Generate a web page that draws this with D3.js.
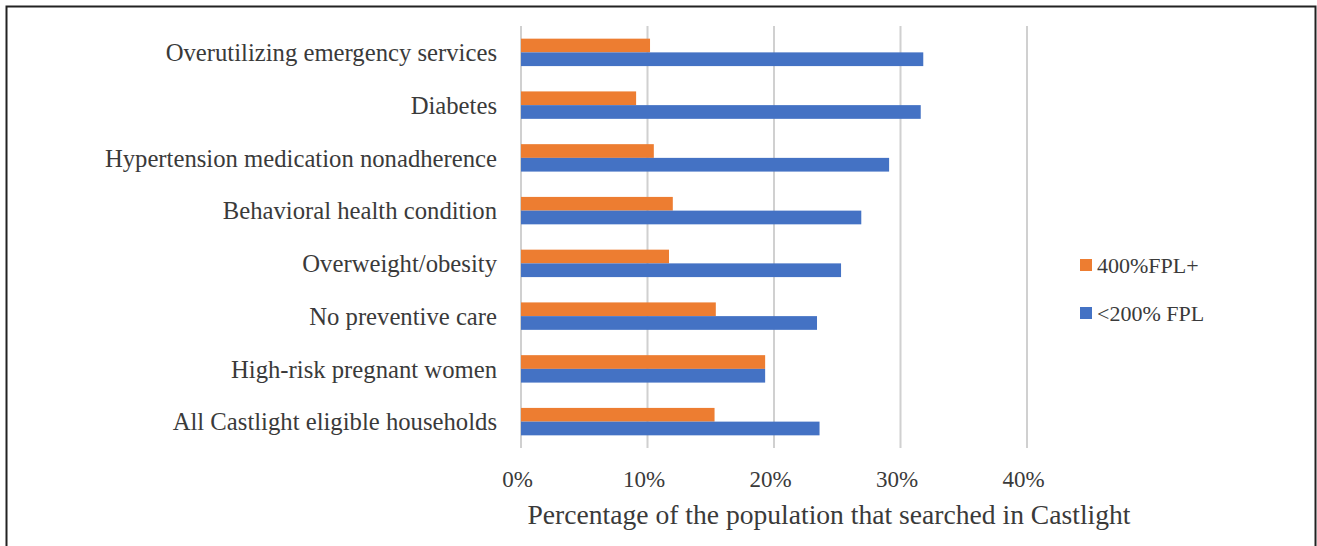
<!DOCTYPE html>
<html><head><meta charset="utf-8">
<script src="https://cdn.jsdelivr.net/npm/d3@7"></script>
<style>html,body{margin:0;padding:0;background:#fff;}text{font-family:"Liberation Serif","Times New Roman",serif;fill:#3a3a3a;}</style>
</head><body>
<svg id="chart" width="1317" height="546"></svg>
<script>
const categories = ["Overutilizing emergency services","Diabetes","Hypertension medication nonadherence","Behavioral health condition","Overweight/obesity","No preventive care","High-risk pregnant women","All Castlight eligible households"];
const seriesNames = ["400%FPL+","<200% FPL"];
const high400 = [0.102,0.091,0.105,0.120,0.117,0.154,0.193,0.153];
const low200 = [0.318,0.316,0.291,0.269,0.253,0.234,0.193,0.236];
const tickValues = [0,0.1,0.2,0.3,0.4];
const colors = ["#ED7D31","#4472C4"];
const axisTitle = "Percentage of the population that searched in Castlight";

const svg = d3.select("#chart");
svg.append("rect").attr("x",6.5).attr("y",6.5).attr("width",1309).attr("height",560).attr("fill","none").attr("stroke","#222").attr("stroke-width",2);

const x = d3.scaleLinear().domain([0,0.4]).range([521,1027]);
const y = d3.scaleBand().domain(categories).range([26,448]).paddingInner(0.48).paddingOuter(0.24);
const ys = d3.scaleBand().domain(seriesNames).range([0,y.bandwidth()]);

svg.append("g").selectAll("line").data(tickValues).join("line")
  .attr("x1",d=>x(d)).attr("x2",d=>x(d)).attr("y1",26).attr("y2",448)
  .attr("stroke","#d0d0d0").attr("stroke-width",2);

const data = categories.map((c,i)=>({cat:c, vals:[high400[i],low200[i]]}));
const grp = svg.append("g").selectAll("g").data(data).join("g")
  .attr("transform",d=>`translate(0,${y(d.cat)})`);
grp.selectAll("rect").data(d=>d.vals.map((v,j)=>({v,s:seriesNames[j],c:colors[j]}))).join("rect")
  .attr("x",x(0)).attr("y",d=>ys(d.s)).attr("width",d=>x(d.v)-x(0)).attr("height",ys.bandwidth())
  .attr("fill",d=>d.c);

const yAxis = d3.axisLeft(y).tickSize(0).tickPadding(0);
const yg = svg.append("g").attr("transform","translate(497,0)").call(yAxis);
yg.select(".domain").remove();
yg.selectAll("text").style("font-size","24.7px").attr("dy","0.35em");

const xAxis = d3.axisBottom(x).tickValues(tickValues).tickFormat(d3.format(".0%")).tickSize(0).tickPadding(0);
const xg = svg.append("g").attr("transform","translate(-4,471)").call(xAxis);
xg.select(".domain").remove();
xg.selectAll("text").style("font-size","23px").attr("dy","0.71em");

svg.append("text").attr("x",829).attr("y",524).attr("text-anchor","middle").style("font-size","27.6px").text(axisTitle);

const leg = svg.append("g").selectAll("g").data(seriesNames).join("g")
  .attr("transform",(d,i)=>`translate(1080,${265+i*48})`);
leg.append("rect").attr("x",0).attr("y",-6).attr("width",12).attr("height",12).attr("fill",(d,i)=>colors[i]);
leg.append("text").attr("x",17).attr("y",0).attr("dy","0.35em").style("font-size","22px").text(d=>d);
</script>
</body></html>
